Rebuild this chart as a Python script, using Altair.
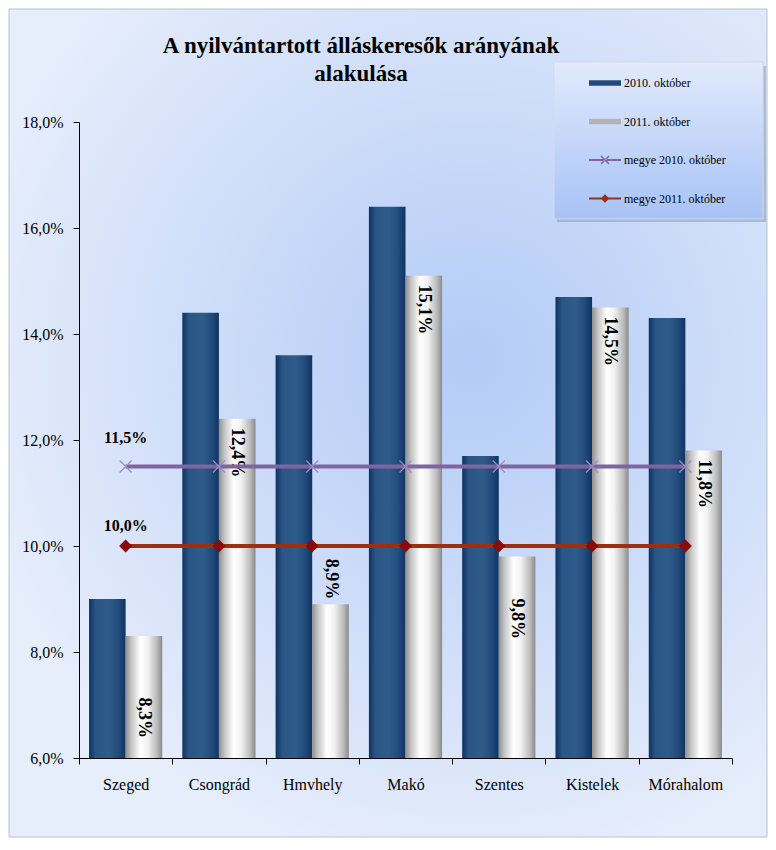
import altair as alt
import pandas as pd

# ---------------- data ----------------
categories = ["Szeged", "Csongrád", "Hmvhely", "Makó", "Szentes", "Kistelek", "Mórahalom"]
okt_2010 = [9.0, 14.4, 13.6, 16.4, 11.7, 14.7, 14.3]
okt_2011 = [8.3, 12.4, 8.9, 15.1, 9.8, 14.5, 11.8]
megye_2010 = [11.5, 11.5, 11.5, 11.5, 11.5, 11.5, 11.5]
megye_2011 = [10.0, 10.0, 10.0, 10.0, 10.0, 10.0, 10.0]
label_place_2011 = ["base", "end", "outside", "end", "lower", "end", "end"]
series_names = ["2010. október", "2011. október", "megye 2010. október", "megye 2011. október"]
y_ticks = [6, 8, 10, 12, 14, 16, 18]
title_lines = ["A nyilvántartott álláskeresők arányának", "alakulása"]

Y_MIN, Y_MAX = 6, 18
W, H = 653, 636
SERIF = "Liberation Serif"


def fmt(v):
    return f"{v:.1f}".replace(".", ",") + "%"


bars_df = pd.DataFrame(
    [{"cat": c, "series": "2010", "value": v, "place": "", "label": fmt(v)}
     for c, v in zip(categories, okt_2010)]
    + [{"cat": c, "series": "2011", "value": v, "place": p, "label": fmt(v)}
       for c, v, p in zip(categories, okt_2011, label_place_2011)]
)
m10_df = pd.DataFrame({"cat": categories, "value": megye_2010,
                       "label": [fmt(v) for v in megye_2010]})
m11_df = pd.DataFrame({"cat": categories, "value": megye_2011,
                       "label": [fmt(v) for v in megye_2011]})
legend_df = pd.DataFrame({"series": series_names})
one = pd.DataFrame({"k": [0]})

# ---------------- encodings ----------------
x_enc = alt.X(
    "cat:N",
    scale=alt.Scale(domain=categories, paddingInner=0, paddingOuter=0),
    axis=alt.Axis(title=None, labelAngle=0, tickBand="extent", tickSize=6,
                  labelPadding=12, domainColor="black", tickColor="black",
                  labelFont=SERIF, labelFontSize=16, labelColor="black", grid=False,
                  zindex=1),
)
xo_enc = alt.XOffset(
    "series:N",
    scale=alt.Scale(domain=["2010", "2011"], paddingInner=0, paddingOuter=0.2745),
)
y_axis = alt.Axis(title=None, values=y_ticks, grid=False, tickSize=6, labelPadding=10,
                  domainColor="black", tickColor="black", zindex=1,
                  labelExpr="replace(format(datum.value, '.1f'), '.', ',') + '%'",
                  labelFont=SERIF, labelFontSize=16, labelColor="black")
y_scale = alt.Scale(domain=[Y_MIN, Y_MAX], nice=False, zero=False)
y_enc = alt.Y("value:Q", scale=y_scale, axis=y_axis)

# ---------------- decorations ----------------
bg_fill = {
    "gradient": "radial", "x1": 0.6, "y1": 0.42, "r1": 0,
    "x2": 0.6, "y2": 0.42, "r2": 0.62,
    "stops": [{"offset": 0, "color": "#b3cbf6"}, {"offset": 1, "color": "#e6edfb"}],
}
background = alt.Chart(one).mark_rect(fill=bg_fill, stroke="#b9c2cf", strokeWidth=1).encode(
    x=alt.value(-70), x2=alt.value(W + 35), y=alt.value(-113), y2=alt.value(H + 79)
)

legend_shadow = alt.Chart(one).mark_rect(fill="#8c9ab0", opacity=0.55).encode(
    x=alt.value(478), x2=alt.value(687), y=alt.value(-56), y2=alt.value(100)
)
legend_fill = {
    "gradient": "linear", "x1": 0, "y1": 0, "x2": 0, "y2": 1,
    "stops": [{"offset": 0, "color": "#e2eafc"}, {"offset": 1, "color": "#a7c3f6"}],
}
legend_box = alt.Chart(one).mark_rect(fill=legend_fill, stroke="#d3dbea", strokeWidth=1).encode(
    x=alt.value(475), x2=alt.value(684), y=alt.value(-60), y2=alt.value(97)
)

title = alt.Chart(one).mark_text(
    text=title_lines, font=SERIF, fontSize=23, fontWeight="bold", color="black",
    align="center", baseline="alphabetic", lineHeight=28,
).encode(x=alt.value(282), y=alt.value(-69))

# ---------------- bars ----------------
grad_2010 = {
    "gradient": "linear", "x1": 0, "y1": 0, "x2": 1, "y2": 0,
    "stops": [
        {"offset": 0, "color": "#0e3262"},
        {"offset": 0.18, "color": "#2a5584"},
        {"offset": 0.55, "color": "#2f5b89"},
        {"offset": 0.8, "color": "#214b7b"},
        {"offset": 1, "color": "#0f3463"},
    ],
}
grad_2011 = {
    "gradient": "linear", "x1": 0, "y1": 0, "x2": 1, "y2": 0,
    "stops": [
        {"offset": 0, "color": "#8e8e8e"},
        {"offset": 0.15, "color": "#c4c4c4"},
        {"offset": 0.4, "color": "#ffffff"},
        {"offset": 0.6, "color": "#f2f2f2"},
        {"offset": 0.85, "color": "#bcbcbc"},
        {"offset": 1, "color": "#8a8a8a"},
    ],
}

bars_base = alt.Chart(bars_df)
bars_2010 = bars_base.transform_filter("datum.series == '2010'").mark_bar(fill=grad_2010).encode(
    x=x_enc, xOffset=xo_enc, y=y_enc, y2=alt.datum(Y_MIN)
)
bars_2011 = bars_base.transform_filter("datum.series == '2011'").mark_bar(fill=grad_2011).encode(
    x=x_enc, xOffset=xo_enc, y=y_enc, y2=alt.datum(Y_MIN)
)

lab_style = dict(font=SERIF, fontSize=18, fontWeight="bold", color="black",
                 angle=90, baseline="middle")
lab_base = bars_base.transform_filter("datum.series == '2011'")
lab_end = lab_base.transform_filter("datum.place == 'end'").mark_text(
    align="left", dx=9, **lab_style
).encode(x=x_enc, xOffset=xo_enc, y=y_enc, text="label:N")
lab_lower = lab_base.transform_filter("datum.place == 'lower'").mark_text(
    align="left", dx=42, **lab_style
).encode(x=x_enc, xOffset=xo_enc, y=y_enc, text="label:N")
lab_out = lab_base.transform_filter("datum.place == 'outside'").mark_text(
    align="right", dx=-5, **lab_style
).encode(x=x_enc, xOffset=xo_enc, y=y_enc, text="label:N")
lab_bottom = lab_base.transform_filter("datum.place == 'base'").transform_calculate(
    ly=f"{Y_MIN}"
).mark_text(align="right", dx=-20, **lab_style).encode(
    x=x_enc, xOffset=xo_enc, y=alt.Y("ly:Q", scale=y_scale, axis=y_axis), text="label:N"
)

# ---------------- county lines ----------------
line10 = alt.Chart(m10_df).mark_line(color="#8064a2", strokeWidth=4).encode(x=x_enc, y=y_enc)
pts10 = alt.Chart(m10_df).mark_point(
    shape="M-1,-1L1,1M-1,1L1,-1", filled=False, stroke="#9d8cc6", strokeWidth=1.2,
    size=144, opacity=1,
).encode(x=x_enc, y=y_enc)
line11 = alt.Chart(m11_df).mark_line(color="#9a3010", strokeWidth=4).encode(x=x_enc, y=y_enc)
pts11 = alt.Chart(m11_df).mark_point(
    shape="diamond", filled=True, fill="#8b0a0a", size=169, opacity=1
).encode(x=x_enc, y=y_enc)

line_lab_style = dict(font=SERIF, fontSize=16, fontWeight="bold", color="black",
                      align="center", baseline="alphabetic")
lab10 = alt.Chart(m10_df).transform_filter(alt.datum.cat == categories[0]).mark_text(
    dy=-24, **line_lab_style
).encode(x=x_enc, y=y_enc, text="label:N")
lab11 = alt.Chart(m11_df).transform_filter(alt.datum.cat == categories[0]).mark_text(
    dy=-15, **line_lab_style
).encode(x=x_enc, y=y_enc, text="label:N")

# ---------------- legend ----------------
sym_bar = "M-1,-0.17H1V0.17H-1Z"
sym_x = ("M-1,-0.06H1V0.06H-1Z "
         "M-0.215,-0.285L0.285,0.215L0.215,0.285L-0.285,-0.215Z "
         "M-0.215,0.285L0.285,-0.215L0.215,-0.285L-0.285,0.215Z")
sym_d = "M-1,-0.06H1V0.06H-1Z M0,-0.27L0.27,0L0,0.27L-0.27,0Z"

leg = alt.Legend(
    orient="none", legendX=510, legendY=-55, direction="vertical",
    symbolSize=1024, symbolStrokeWidth=0, symbolOpacity=1,
    labelFont=SERIF, labelFontSize=12, labelColor="black", labelOffset=3,
    rowPadding=16.5, padding=0, labelLimit=300,
)
legend_layer = alt.Chart(legend_df).mark_point(filled=True, opacity=0).encode(
    color=alt.Color("series:N", title=None,
                    scale=alt.Scale(domain=series_names,
                                    range=["#1f4a7a", "#b4b4b4", "#8064a2", "#9a3010"]),
                    legend=leg),
    shape=alt.Shape("series:N", title=None,
                    scale=alt.Scale(domain=series_names,
                                    range=[sym_bar, sym_bar, sym_x, sym_d]),
                    legend=leg),
)

chart = alt.layer(
    background, legend_shadow, legend_box, title,
    bars_2010, bars_2011,
    lab_end, lab_lower, lab_out, lab_bottom,
    line10, pts10, line11, pts11, lab10, lab11,
    legend_layer,
).properties(width=W, height=H, padding=0).configure_view(stroke="transparent")

chart.save("out.html", embed_options={"renderer": "svg", "actions": False})
